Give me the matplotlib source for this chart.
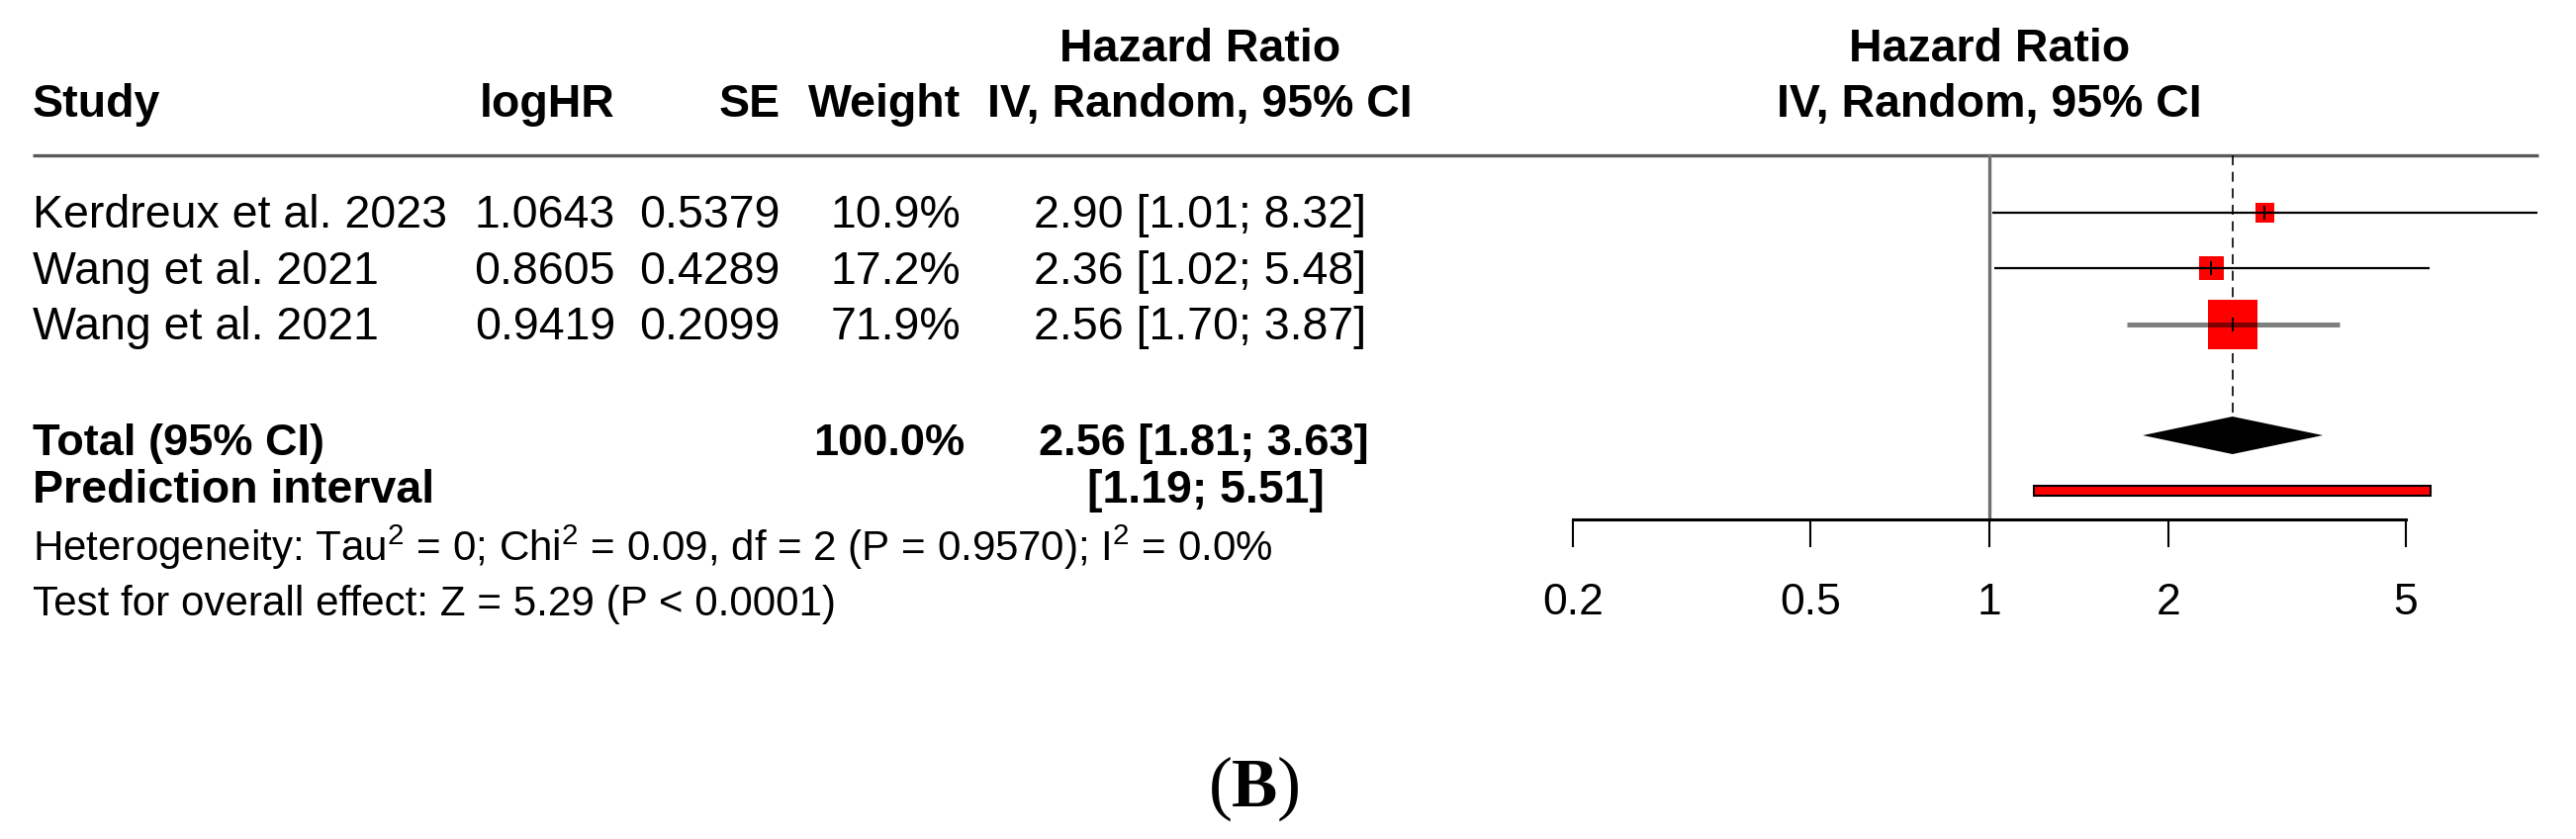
import numpy as np
import matplotlib
matplotlib.use("Agg")
import matplotlib.pyplot as plt
from matplotlib.ticker import FixedLocator, FixedFormatter, NullLocator

plt.rcParams['font.family'] = ['Liberation Sans', 'DejaVu Sans']
plt.rcParams['mathtext.fontset'] = 'custom'
plt.rcParams['mathtext.rm'] = 'Liberation Sans'
plt.rcParams['mathtext.it'] = 'Liberation Sans:italic'
plt.rcParams['mathtext.bf'] = 'Liberation Sans:bold'

# data
studies = ["Kerdreux et al. 2023", "Wang et al. 2021", "Wang et al. 2021"]
log_hr = ["1.0643", "0.8605", "0.9419"]
se = ["0.5379", "0.4289", "0.2099"]
weights = [10.9, 17.2, 71.9]
hr = [2.90, 2.36, 2.56]
ci_lo = [1.01, 1.02, 1.70]
ci_hi = [8.32, 5.48, 3.87]
pooled = [2.56, 1.81, 3.63]   # estimate, lower, upper
pred_int = [1.19, 5.51]
ticks = [0.2, 0.5, 1, 2, 5]
tick_labels = ["0.2", "0.5", "1", "2", "5"]
heterogeneity = r"Heterogeneity: Tau$^2$ = 0; Chi$^2$ = 0.09, df = 2 (P = 0.9570); I$^2$ = 0.0%"
overall = "Test for overall effect: Z = 5.29 (P < 0.0001)"

W, H = 2604, 848
fs = 33.5
fs_small = 30.3

# layout (pixels)
row_y = [215, 271, 328]
row_base = [230, 287, 343]
total_y, pred_y = 440, 496
line_y = 157
axis_y = 525
null_px, decade_px = 2011, 602


def x_at(px):
    return 10 ** ((px - null_px) / decade_px)


fig = plt.figure(figsize=(W / 100, H / 100), dpi=100)

ax_txt = fig.add_axes([0, 0, 1, 1])
ax_txt.set_xlim(0, W)
ax_txt.set_ylim(H, 0)
ax_txt.axis('off')

# header
ax_txt.text(1213, 62, "Hazard Ratio", ha='center', va='baseline', fontsize=fs, fontweight='bold')
ax_txt.text(33, 118, "Study", ha='left', va='baseline', fontsize=fs, fontweight='bold')
ax_txt.text(622, 118, "logHR", ha='right', va='baseline', fontsize=fs, fontweight='bold')
ax_txt.text(789, 118, "SE", ha='right', va='baseline', fontsize=fs, fontweight='bold')
ax_txt.text(971, 118, "Weight", ha='right', va='baseline', fontsize=fs, fontweight='bold')
ax_txt.text(1213, 118, "IV, Random, 95% CI", ha='center', va='baseline', fontsize=fs, fontweight='bold')
ax_txt.plot([33, 2566], [line_y, line_y], color='#5a5a5a', lw=2.4, solid_capstyle='butt')

for i in range(len(studies)):
    b = row_base[i]
    ax_txt.text(33, b, studies[i], ha='left', va='baseline', fontsize=fs)
    ax_txt.text(622, b, log_hr[i], ha='right', va='baseline', fontsize=fs)
    ax_txt.text(789, b, se[i], ha='right', va='baseline', fontsize=fs)
    ax_txt.text(971, b, f"{weights[i]:.1f}%", ha='right', va='baseline', fontsize=fs)
    ax_txt.text(1213, b, f"{hr[i]:.2f} [{ci_lo[i]:.2f}; {ci_hi[i]:.2f}]", ha='center', va='baseline', fontsize=fs)

ax_txt.text(33, 460, "Total (95% CI)", ha='left', va='baseline', fontsize=fs - 1, fontweight='bold')
ax_txt.text(975, 460, f"{sum(weights):.1f}%", ha='right', va='baseline', fontsize=fs - 1, fontweight='bold')
ax_txt.text(1217, 460, f"{pooled[0]:.2f} [{pooled[1]:.2f}; {pooled[2]:.2f}]", ha='center', va='baseline',
            fontsize=fs - 1, fontweight='bold')
ax_txt.text(33, 508, "Prediction interval", ha='left', va='baseline', fontsize=fs, fontweight='bold')
ax_txt.text(1219, 508, f"[{pred_int[0]:.2f}; {pred_int[1]:.2f}]", ha='center', va='baseline',
            fontsize=fs, fontweight='bold')
ax_txt.text(33, 567, heterogeneity, ha='left', va='baseline', fontsize=fs_small)
ax_txt.text(33, 622, overall, ha='left', va='baseline', fontsize=fs_small)

# panel label
ax_txt.text(1268, 815, "B", ha='center', va='baseline', fontsize=50, fontweight='bold', family='Liberation Serif')
ax_txt.text(1246, 815, "(", ha='right', va='baseline', fontsize=52, family='Liberation Serif')
ax_txt.text(1291, 815, ")", ha='left', va='baseline', fontsize=52, family='Liberation Serif')

# forest plot
ax = fig.add_axes([1500 / W, 0, (W - 1500) / W, 1])
ax.set_xscale('log')
ax.set_xlim(x_at(1500), x_at(W))
ax.set_ylim(H, 0)
ax.patch.set_visible(False)
for s in ['top', 'left', 'right']:
    ax.spines[s].set_visible(False)
ax.spines['bottom'].set_position(('data', axis_y))
ax.spines['bottom'].set_bounds(ticks[0], ticks[-1])
ax.spines['bottom'].set_linewidth(2.2)
ax.set_yticks([])
ax.xaxis.set_major_locator(FixedLocator(ticks))
ax.xaxis.set_major_formatter(FixedFormatter(tick_labels))
ax.xaxis.set_minor_locator(NullLocator())
ax.tick_params(axis='x', direction='out', length=20, width=1.5, pad=26, labelsize=32)

ax.text(1, 62, "Hazard Ratio", ha='center', va='baseline', fontsize=fs, fontweight='bold')
ax.text(1, 118, "IV, Random, 95% CI", ha='center', va='baseline', fontsize=fs, fontweight='bold')

ax.plot([1, 1], [line_y, axis_y], color='#707070', lw=2.4, zorder=1)
ax.plot([pooled[0], pooled[0]], [line_y, total_y - 19], color='black', lw=1.2, dashes=(6, 4), zorder=1)

sq = [5.9 * np.sqrt(w) * 0.72 for w in weights]
ax.scatter(hr, row_y, marker='s', s=[v ** 2 for v in sq], color='red', linewidths=0, zorder=2)
for i in range(len(hr)):
    if i == 2:
        ax.plot([ci_lo[i], ci_hi[i]], [row_y[i], row_y[i]], color='black', alpha=0.5, lw=3.6,
                solid_capstyle='butt', zorder=3)
    else:
        ax.plot([ci_lo[i], ci_hi[i]], [row_y[i], row_y[i]], color='black', lw=1.6,
                solid_capstyle='butt', zorder=3)
ax.plot(hr, row_y, linestyle='none', marker='|', markersize=10, mew=1.4, color='black', zorder=4)

ax.fill([pooled[1], pooled[0], pooled[2], pooled[0]],
        [total_y, total_y - 19, total_y, total_y + 19], color='black', lw=0, zorder=3)
ax.fill([pred_int[0], pred_int[1], pred_int[1], pred_int[0]],
        [pred_y - 5, pred_y - 5, pred_y + 5, pred_y + 5], facecolor='red', edgecolor='black', lw=1.5, zorder=3)

fig.savefig("out.png", dpi=100)
